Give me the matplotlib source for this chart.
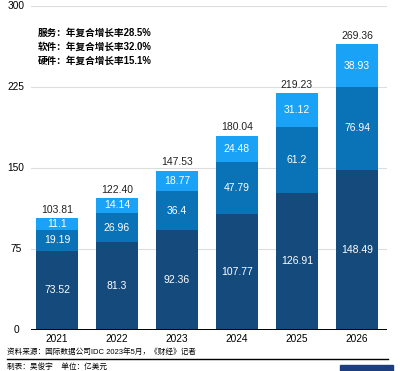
import numpy as np
import matplotlib
matplotlib.use("Agg")
import matplotlib.pyplot as plt
from matplotlib.patches import Rectangle

plt.rcParams['font.family'] = ['Liberation Sans', 'Noto Sans CJK SC']

years = ['2021', '2022', '2023', '2024', '2025', '2026']
hardware = [73.52, 81.3, 92.36, 107.77, 126.91, 148.49]
software = [19.19, 26.96, 36.4, 47.79, 61.2, 76.94]
services = [11.1, 14.14, 18.77, 24.48, 31.12, 38.93]
totals = ['103.81', '122.40', '147.53', '180.04', '219.23', '269.36']
yticks = [0, 75, 150, 225, 300]
notes = ['服务：年复合增长率28.5%', '软件：年复合增长率32.0%', '硬件：年复合增长率15.1%']

c_dark = '#154a7d'
c_mid = '#0a72b6'
c_light = '#1aa2f6'

fig = plt.figure(figsize=(4, 3.71), dpi=100)
ax = fig.add_axes([31/400, 1-330/371, 356/400, 324/371])

x = np.arange(len(years))
w = 0.7
ax.bar(x, hardware, w, color=c_dark, zorder=2)
ax.bar(x, software, w, bottom=hardware, color=c_mid, zorder=2)
bot3 = np.array(hardware) + np.array(software)
ax.bar(x, services, w, bottom=bot3, color=c_light, zorder=2)

for i in range(len(years)):
    ax.text(x[i], hardware[i]/2, str(hardware[i]), ha='center', va='center',
            color='white', fontsize=7.5, zorder=3)
    ax.text(x[i], hardware[i] + software[i]/2, str(software[i]), ha='center',
            va='center', color='white', fontsize=7.5, zorder=3)
    ax.text(x[i], bot3[i] + services[i]/2, str(services[i]), ha='center',
            va='center', color='white', fontsize=7.5, zorder=3)
    ax.text(x[i], bot3[i] + services[i] + 3, totals[i], ha='center',
            va='bottom', color='#222222', fontsize=7.5, zorder=3)

ax.set_xlim(-0.433, 5.5)
ax.set_ylim(0, 300)
for t in yticks[1:]:
    ax.axhline(t, color='#dddddd', lw=0.8, zorder=1)
ax.axhline(0, color='black', lw=1.4, zorder=4)
for s in ax.spines.values():
    s.set_visible(False)
ax.set_yticks([])
ax.set_xticks(x)
ax.set_xticklabels(years, fontsize=7.3)
ax.tick_params(axis='x', length=0, pad=3)
for t in yticks:
    ax.text(-0.683, t, str(t), ha='center', va='center', fontsize=7.3,
            transform=ax.transData)

for k, n in enumerate(notes):
    fig.text(38/400, 1-(33+14*k)/371, n, fontsize=6.9, fontweight='bold',
             va='center', ha='left')

fig.text(7/400, 1-352/371, '资料来源：国际数据公司IDC 2023年5月，《财经》记者',
         fontsize=5.5, va='center', ha='left')
fig.add_artist(plt.Line2D([7/400, 388/400], [1-358.5/371, 1-358.5/371],
                          color='black', lw=1.0))
fig.text(7/400, 1-367/371, '制表：吴俊宇    单位：亿美元',
         fontsize=5.5, va='center', ha='left')
fig.add_artist(Rectangle((340/400, 0), 53/400, 6/371, color='#1d3e7e',
                         transform=fig.transFigure))

fig.savefig('out.png', dpi=100)
